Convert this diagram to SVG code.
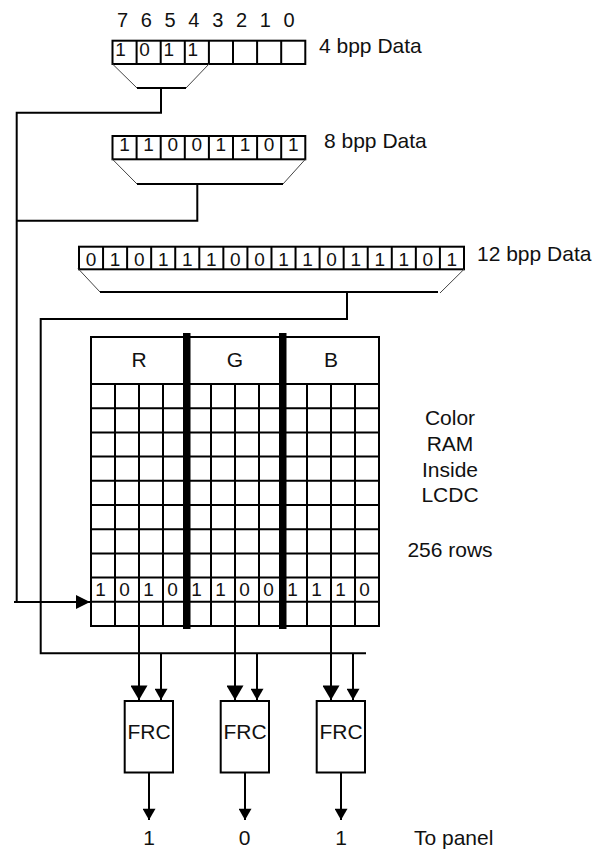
<svg xmlns="http://www.w3.org/2000/svg" width="599" height="850" viewBox="0 0 599 850">
<defs>
<style>
.ln{stroke:#000;stroke-width:2;fill:none}
.thin{stroke:#444;stroke-width:1;fill:none}
.bar{fill:#000}
.box{fill:#fff;stroke:#000;stroke-width:2}
text{font-family:"Liberation Sans",Arial,sans-serif;fill:#111}
.dm{font-size:19px;text-anchor:middle}
.ix{font-size:20px;text-anchor:middle}
.lb{font-size:21px}
.lbm{font-size:21px;text-anchor:middle}
.frc{font-size:21px;text-anchor:middle}
</style>
<marker id="big" markerUnits="userSpaceOnUse" markerWidth="20" markerHeight="17" refX="17" refY="10" orient="auto" viewBox="0 0 17 20">
<path d="M0,0 L17,10 L0,20 Z" fill="#000"/>
</marker>
<marker id="sm" markerUnits="userSpaceOnUse" markerWidth="15" markerHeight="13" refX="13" refY="7.5" orient="auto" viewBox="0 0 13 15">
<path d="M0,0 L13,7.5 L0,15 Z" fill="#000"/>
</marker>
<marker id="left" markerUnits="userSpaceOnUse" markerWidth="14" markerHeight="14" refX="14" refY="7" orient="auto" viewBox="0 0 14 14">
<path d="M0,0 L14,7 L0,14 Z" fill="#000"/>
</marker>
</defs>
<rect width="599" height="850" fill="#fff"/>

<g id="bit-index">
<text class="ix" x="122.5" y="27.3">7</text>
<text class="ix" x="146.3" y="27.3">6</text>
<text class="ix" x="170.1" y="27.3">5</text>
<text class="ix" x="193.9" y="27.3">4</text>
<text class="ix" x="217.7" y="27.3">3</text>
<text class="ix" x="241.5" y="27.3">2</text>
<text class="ix" x="265.3" y="27.3">1</text>
<text class="ix" x="289.1" y="27.3">0</text>
</g>

<g id="reg-4bpp">
<rect class="ln" x="112.5" y="40.7" width="192.8" height="23.3"/>
<path class="ln" d="M136.6,40.7V64M160.7,40.7V64M184.8,40.7V64M208.9,40.7V64M233,40.7V64M257.1,40.7V64M281.2,40.7V64"/>
<text class="dm" x="120.5" y="55.5">1</text>
<text class="dm" x="144.6" y="55.5">0</text>
<text class="dm" x="168.7" y="55.5">1</text>
<text class="dm" x="192.8" y="55.5">1</text>
<text class="lb" x="319" y="53">4 bpp Data</text>
</g>

<g id="reg-8bpp">
<rect class="ln" x="112.5" y="136" width="192.8" height="23.3"/>
<path class="ln" d="M136.6,136V159.3M160.7,136V159.3M184.8,136V159.3M208.9,136V159.3M233,136V159.3M257.1,136V159.3M281.2,136V159.3"/>
<text class="dm" x="124.5" y="151">1</text>
<text class="dm" x="148.6" y="151">1</text>
<text class="dm" x="172.7" y="151">0</text>
<text class="dm" x="196.8" y="151">0</text>
<text class="dm" x="220.9" y="151">1</text>
<text class="dm" x="245" y="151">1</text>
<text class="dm" x="269.1" y="151">0</text>
<text class="dm" x="293.2" y="151">1</text>
<text class="lb" x="324" y="148.3">8 bpp Data</text>
</g>

<g id="reg-12bpp">
<rect class="ln" x="79" y="246.7" width="385" height="22.6"/>
<path class="ln" d="M103.06,246.7V269.3M127.12,246.7V269.3M151.18,246.7V269.3M175.24,246.7V269.3M199.3,246.7V269.3M223.36,246.7V269.3M247.42,246.7V269.3M271.48,246.7V269.3M295.54,246.7V269.3M319.6,246.7V269.3M343.66,246.7V269.3M367.72,246.7V269.3M391.78,246.7V269.3M415.84,246.7V269.3M439.9,246.7V269.3"/>
<text class="dm" x="91" y="266">0</text>
<text class="dm" x="115.1" y="266">1</text>
<text class="dm" x="139.2" y="266">0</text>
<text class="dm" x="163.2" y="266">1</text>
<text class="dm" x="187.3" y="266">1</text>
<text class="dm" x="211.3" y="266">1</text>
<text class="dm" x="235.4" y="266">0</text>
<text class="dm" x="259.5" y="266">0</text>
<text class="dm" x="283.5" y="266">1</text>
<text class="dm" x="307.6" y="266">1</text>
<text class="dm" x="331.6" y="266">0</text>
<text class="dm" x="355.7" y="266">1</text>
<text class="dm" x="379.8" y="266">1</text>
<text class="dm" x="403.8" y="266">1</text>
<text class="dm" x="427.9" y="266">0</text>
<text class="dm" x="451.9" y="266">1</text>
<text class="lb" x="477" y="261">12 bpp Data</text>
</g>

<g id="color-ram">
<rect class="ln" x="91" y="337" width="288" height="289"/>
<path class="ln" d="M91,384H379M91,408.2H379M91,432.4H379M91,456.6H379M91,480.8H379M91,505H379M91,529.2H379M91,553.4H379M91,577.6H379M91,601.8H379"/>
<path class="ln" d="M115,384V626M139,384V626M163,384V626M211,384V626M235,384V626M259,384V626M307,384V626M331,384V626M355,384V626"/>
<rect class="bar" x="183" y="333" width="7.5" height="296"/>
<rect class="bar" x="279" y="333" width="7.5" height="296"/>
<text class="lbm" x="139" y="367">R</text>
<text class="lbm" x="235" y="367">G</text>
<text class="lbm" x="331" y="367">B</text>
<text class="dm" x="100.5" y="595.5">1</text>
<text class="dm" x="124.5" y="595.5">0</text>
<text class="dm" x="148.5" y="595.5">1</text>
<text class="dm" x="172.5" y="595.5">0</text>
<text class="dm" x="196.5" y="595.5">1</text>
<text class="dm" x="220.5" y="595.5">1</text>
<text class="dm" x="244.5" y="595.5">0</text>
<text class="dm" x="268.5" y="595.5">0</text>
<text class="dm" x="292.5" y="595.5">1</text>
<text class="dm" x="316.5" y="595.5">1</text>
<text class="dm" x="340.5" y="595.5">1</text>
<text class="dm" x="364.5" y="595.5">0</text>
</g>

<g id="ram-label">
<text class="lbm" x="450" y="425">Color</text>
<text class="lbm" x="450" y="451">RAM</text>
<text class="lbm" x="450" y="477">Inside</text>
<text class="lbm" x="450" y="502">LCDC</text>
<text class="lbm" x="450" y="557">256 rows</text>
</g>

<g id="frc-r">
<rect class="box" x="124.7" y="701" width="48.3" height="71.5"/>
<text class="frc" x="149" y="739">FRC</text>
</g>
<g id="frc-g">
<rect class="box" x="220.7" y="701" width="48.3" height="71.5"/>
<text class="frc" x="245" y="739">FRC</text>
</g>
<g id="frc-b">
<rect class="box" x="316.7" y="701" width="48.3" height="71.5"/>
<text class="frc" x="341" y="739">FRC</text>
</g>

<g id="outputs">
<text class="lbm" x="149" y="845">1</text>
<text class="lbm" x="244.5" y="845">0</text>
<text class="lbm" x="341" y="845">1</text>
<text class="lb" x="414" y="845">To panel</text>
</g>

<g id="connectors">
<path class="thin" d="M112.5,64L137,88M209,64L186,88"/>
<path class="ln" d="M137,88H186M161,88V112.7H16.7V602"/>
<path class="thin" d="M112.5,159.3L137,184M305.3,159.3L283,184"/>
<path class="ln" d="M137,184H283M197.3,184V220.7H16.7"/>
<path class="thin" d="M78,268.5L100,292M464,269.3L440,293"/>
<path class="ln" d="M100,292H438M347,292V320M347,319H40.7V653.3H366"/>
<line class="ln" x1="14" y1="602" x2="90" y2="602" marker-end="url(#left)"/>
<line class="ln" x1="139" y1="626" x2="139" y2="700" marker-end="url(#big)"/>
<line class="ln" x1="235" y1="626" x2="235" y2="700" marker-end="url(#big)"/>
<line class="ln" x1="331" y1="626" x2="331" y2="700" marker-end="url(#big)"/>
<line class="ln" x1="161" y1="653.3" x2="161" y2="700" marker-end="url(#sm)"/>
<line class="ln" x1="257" y1="653.3" x2="257" y2="700" marker-end="url(#sm)"/>
<line class="ln" x1="353" y1="653.3" x2="353" y2="700" marker-end="url(#sm)"/>
<line class="ln" x1="149" y1="772.5" x2="149" y2="820" marker-end="url(#sm)"/>
<line class="ln" x1="245" y1="772.5" x2="245" y2="820" marker-end="url(#sm)"/>
<line class="ln" x1="341" y1="772.5" x2="341" y2="820" marker-end="url(#sm)"/>
</g>
</svg>
